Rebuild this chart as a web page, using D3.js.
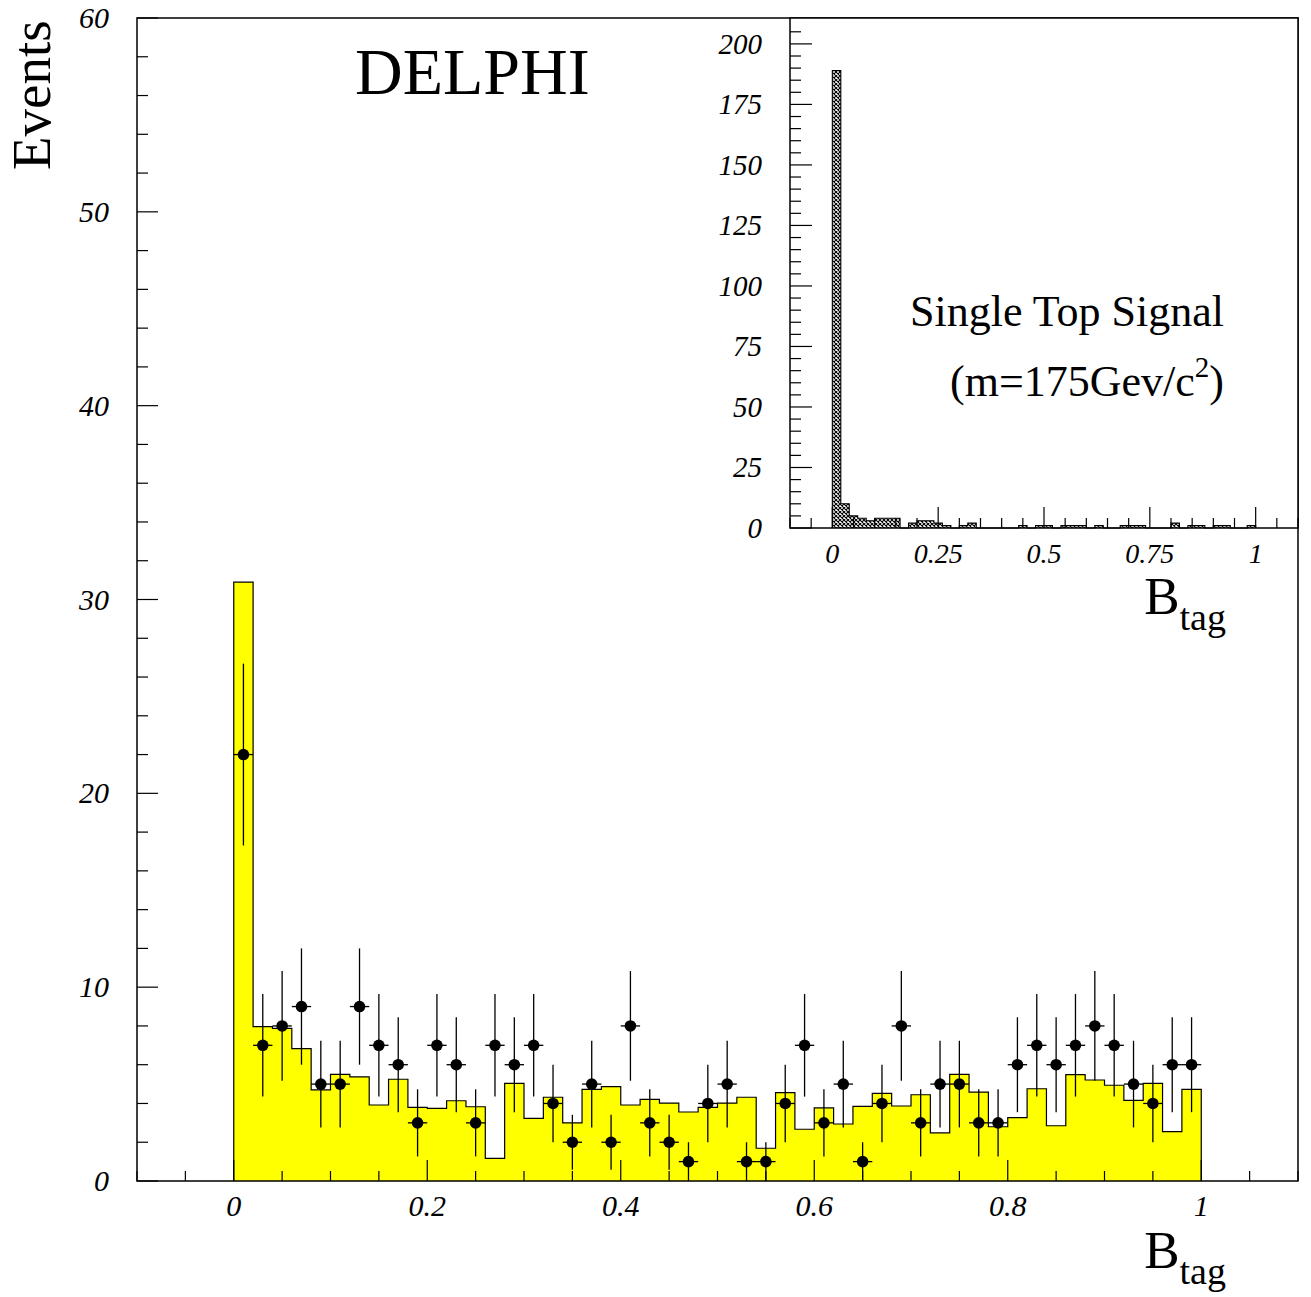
<!DOCTYPE html>
<html>
<head>
<meta charset="utf-8">
<script src="https://cdn.jsdelivr.net/npm/d3@7"></script>
<style>
  body { margin: 0; background: #fff; }
  svg { display: block; }
  .lbl { font-family: "Liberation Serif", "Times New Roman", serif; font-style: italic; }
  .ttl { font-family: "Liberation Serif", "Times New Roman", serif; }
</style>
</head>
<body>
<div id="chart"></div>
<script>
/* bins of width 0.02 over [0,1] */
var binWidth = 0.02;

/* simulated background (yellow histogram), one value per bin */
var mcCounts = [30.9, 7.96, 7.87, 6.83, 4.7, 5.5, 5.37, 3.92, 5.25, 3.8,
                3.75, 4.14, 3.83, 1.17, 5.04, 3.23, 4.32, 3.0, 4.73, 4.87,
                3.92, 4.21, 4.02, 3.56, 3.8, 4.02, 4.32, 1.69, 4.56, 2.67,
                3.77, 2.94, 3.85, 4.52, 3.87, 4.45, 2.48, 5.5, 4.59, 2.8,
                3.27, 4.76, 2.85, 5.49, 5.21, 4.94, 4.16, 5.04, 2.55, 4.73];

/* real data, events per bin */
var dataCounts = [22, 7, 8, 9, 5, 5, 9, 7, 6, 3, 7, 6, 3, 7, 6, 7, 4, 2, 5, 2,
                  8, 3, 2, 1, 4, 5, 1, 1, 4, 7, 3, 5, 1, 4, 8, 3, 5, 5, 3, 3,
                  6, 7, 6, 7, 8, 7, 5, 4, 6, 6];

/* single top signal (inset) */
var signalCounts = [189, 10, 5, 4, 3, 4, 4, 4, 0, 2, 3, 3, 2, 1, 0, 1, 2, 0, 0, 0,
                    0, 0, 1, 0, 1, 1, 0, 1, 1, 1, 0, 1, 0, 0, 1, 1, 1, 0, 0, 0,
                    2, 0, 1, 1, 0, 1, 1, 0, 0, 1];

var mainXTicks = [0, 0.2, 0.4, 0.6, 0.8, 1];
var mainXTickLabels = ["0", "0.2", "0.4", "0.6", "0.8", "1"];
var mainYTicks = [0, 10, 20, 30, 40, 50, 60];
var insetXTicks = [0, 0.25, 0.5, 0.75, 1];
var insetXTickLabels = ["0", "0.25", "0.5", "0.75", "1"];
var insetYTicks = [0, 25, 50, 75, 100, 125, 150, 175, 200];

var W = 1311, H = 1297;
var svg = d3.select("#chart").append("svg")
    .attr("width", W)
    .attr("height", H);

var defs = svg.append("defs");
var pat = defs.append("pattern")
    .attr("id", "xhatch")
    .attr("patternUnits", "userSpaceOnUse")
    .attr("width", 4)
    .attr("height", 4);
pat.append("rect").attr("width", 4).attr("height", 4).attr("fill", "#fff");
pat.append("path")
    .attr("d", "M0,0L4,4M4,0L0,4")
    .attr("stroke", "#000")
    .attr("stroke-width", 1.1);

/* step outline of a histogram: starts and ends on the baseline */
function stepPoints(counts) {
  var pts = [[0, 0]];
  counts.forEach(function(c, i) {
    pts.push([i * binWidth, c]);
    pts.push([(i + 1) * binWidth, c]);
  });
  pts.push([counts.length * binWidth, 0]);
  return pts;
}

/* ---------------- main frame ---------------- */
var main = {left: 137, top: 18, right: 1298, bottom: 1181};
var x = d3.scaleLinear().domain([-0.1, 1.1]).range([main.left, main.right]),
    y = d3.scaleLinear().domain([0, 60]).range([main.bottom, main.top]);

var g = svg.append("g");

var line = d3.line()
    .x(function(d) { return x(d[0]); })
    .y(function(d) { return y(d[1]); });

var mcPts = stepPoints(mcCounts);
g.append("path")
    .attr("d", line(mcPts) + "Z")
    .attr("fill", "#ffff00")
    .attr("stroke", "none");
g.append("path")
    .attr("d", line(mcPts))
    .attr("fill", "none")
    .attr("stroke", "#000")
    .attr("stroke-width", 1.2);

/* data points with errors */
var pts = g.append("g").selectAll("g")
    .data(dataCounts)
  .enter().append("g");

pts.append("line")
    .attr("x1", function(d, i) { return x((i + 0.5) * binWidth); })
    .attr("x2", function(d, i) { return x((i + 0.5) * binWidth); })
    .attr("y1", function(d) { return y(d - Math.sqrt(d)); })
    .attr("y2", function(d) { return y(d + Math.sqrt(d)); })
    .attr("stroke", "#000")
    .attr("stroke-width", 1.3);

pts.append("line")
    .attr("x1", function(d, i) { return x(i * binWidth); })
    .attr("x2", function(d, i) { return x((i + 1) * binWidth); })
    .attr("y1", function(d) { return y(d); })
    .attr("y2", function(d) { return y(d); })
    .attr("stroke", "#000")
    .attr("stroke-width", 1.3);

pts.append("circle")
    .attr("cx", function(d, i) { return x((i + 0.5) * binWidth); })
    .attr("cy", function(d) { return y(d); })
    .attr("r", 5.8)
    .attr("fill", "#000");

/* frame */
g.append("rect")
    .attr("x", main.left).attr("y", main.top)
    .attr("width", main.right - main.left)
    .attr("height", main.bottom - main.top)
    .attr("fill", "none")
    .attr("stroke", "#000")
    .attr("stroke-width", 1.5);

/* x ticks (inside, pointing up) */
var xMinor = d3.range(-0.1, 1.1001, 0.05);
g.append("g").selectAll("line")
    .data(xMinor)
  .enter().append("line")
    .attr("x1", function(d) { return x(d); })
    .attr("x2", function(d) { return x(d); })
    .attr("y1", main.bottom)
    .attr("y2", function(d) {
      var major = mainXTicks.some(function(t) { return Math.abs(t - d) < 1e-6; });
      return main.bottom - (major ? 21 : 10);
    })
    .attr("stroke", "#000")
    .attr("stroke-width", 1.2);

g.append("g").selectAll("text")
    .data(mainXTicks)
  .enter().append("text")
    .attr("class", "lbl")
    .attr("x", function(d) { return x(d); })
    .attr("y", 1216)
    .attr("text-anchor", "middle")
    .attr("font-size", 30)
    .text(function(d, i) { return mainXTickLabels[i]; });

/* y ticks (inside, pointing right) */
var yMinor = d3.range(0, 60.001, 2);
g.append("g").selectAll("line")
    .data(yMinor)
  .enter().append("line")
    .attr("x1", main.left)
    .attr("x2", function(d) { return main.left + (d % 10 === 0 ? 21 : 11); })
    .attr("y1", function(d) { return y(d); })
    .attr("y2", function(d) { return y(d); })
    .attr("stroke", "#000")
    .attr("stroke-width", 1.2);

g.append("g").selectAll("text")
    .data(mainYTicks)
  .enter().append("text")
    .attr("class", "lbl")
    .attr("x", 109)
    .attr("y", function(d) { return y(d) + 10; })
    .attr("text-anchor", "end")
    .attr("font-size", 30)
    .text(function(d) { return d; });

/* titles */
svg.append("text")
    .attr("class", "ttl")
    .attr("transform", "translate(50,170) rotate(-90)")
    .attr("font-size", 55)
    .text("Events");

svg.append("text")
    .attr("class", "ttl")
    .attr("x", 355)
    .attr("y", 94)
    .attr("font-size", 66)
    .text("DELPHI");

function btag(xr, yb) {
  var t = svg.append("text")
      .attr("class", "ttl")
      .attr("x", xr)
      .attr("y", yb)
      .attr("text-anchor", "end")
      .attr("font-size", 53);
  t.append("tspan").text("B");
  t.append("tspan").attr("font-size", 38).attr("dy", 16).text("tag");
}
btag(1226, 1268);
btag(1226, 614);

/* ---------------- inset ---------------- */
var ins = {left: 790, top: 18, right: 1298, bottom: 528};
var xi = d3.scaleLinear().domain([-0.1, 1.1]).range([ins.left, ins.right]),
    yi = d3.scaleLinear().domain([0, 210.7]).range([ins.bottom, ins.top]);

var gi = svg.append("g");
gi.append("rect")
    .attr("x", ins.left).attr("y", ins.top)
    .attr("width", ins.right - ins.left)
    .attr("height", ins.bottom - ins.top)
    .attr("fill", "#fff");

var linei = d3.line()
    .x(function(d) { return xi(d[0]); })
    .y(function(d) { return yi(d[1]); });

var sigPts = stepPoints(signalCounts);
gi.append("path")
    .attr("d", linei(sigPts) + "Z")
    .attr("fill", "url(#xhatch)")
    .attr("stroke", "none");
gi.append("path")
    .attr("d", linei(sigPts))
    .attr("fill", "none")
    .attr("stroke", "#000")
    .attr("stroke-width", 1.1);

gi.append("rect")
    .attr("x", ins.left).attr("y", ins.top)
    .attr("width", ins.right - ins.left)
    .attr("height", ins.bottom - ins.top)
    .attr("fill", "none")
    .attr("stroke", "#000")
    .attr("stroke-width", 1.5);

gi.append("g").selectAll("line")
    .data(xMinor)
  .enter().append("line")
    .attr("x1", function(d) { return xi(d); })
    .attr("x2", function(d) { return xi(d); })
    .attr("y1", ins.bottom)
    .attr("y2", function(d) {
      var major = insetXTicks.some(function(t) { return Math.abs(t - d) < 1e-6; });
      return ins.bottom - (major ? 21 : 10);
    })
    .attr("stroke", "#000")
    .attr("stroke-width", 1.2);

gi.append("g").selectAll("text")
    .data(insetXTicks)
  .enter().append("text")
    .attr("class", "lbl")
    .attr("x", function(d) { return xi(d); })
    .attr("y", 563)
    .attr("text-anchor", "middle")
    .attr("font-size", 28)
    .text(function(d, i) { return insetXTickLabels[i]; });

var yiMinor = d3.range(0, 210, 5);
gi.append("g").selectAll("line")
    .data(yiMinor)
  .enter().append("line")
    .attr("x1", ins.left)
    .attr("x2", function(d) { return ins.left + (d % 25 === 0 ? 22 : 11); })
    .attr("y1", function(d) { return yi(d); })
    .attr("y2", function(d) { return yi(d); })
    .attr("stroke", "#000")
    .attr("stroke-width", 1.2);

gi.append("g").selectAll("text")
    .data(insetYTicks)
  .enter().append("text")
    .attr("class", "lbl")
    .attr("x", 762)
    .attr("y", function(d) { return yi(d) + 10; })
    .attr("text-anchor", "end")
    .attr("font-size", 29)
    .text(function(d) { return d; });

svg.append("text")
    .attr("class", "ttl")
    .attr("x", 1224)
    .attr("y", 326)
    .attr("text-anchor", "end")
    .attr("font-size", 44)
    .text("Single Top Signal");

var m = svg.append("text")
    .attr("class", "ttl")
    .attr("x", 1224)
    .attr("y", 396)
    .attr("text-anchor", "end")
    .attr("font-size", 44);
m.append("tspan").text("(m=175Gev/c");
m.append("tspan").attr("font-size", 29).attr("dy", -19).text("2");
m.append("tspan").attr("dy", 19).text(")");
</script>
</body>
</html>
